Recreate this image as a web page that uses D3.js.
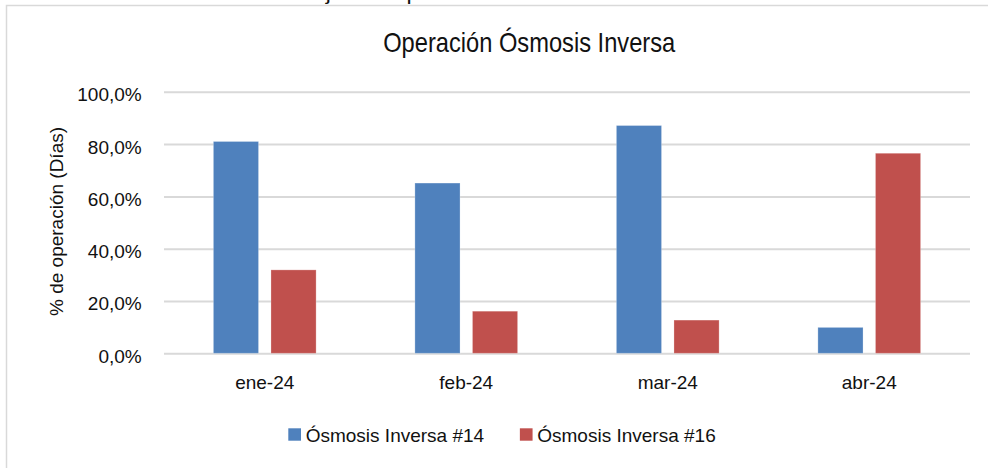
<!DOCTYPE html>
<html>
<head>
<meta charset="utf-8">
<script src="https://cdn.jsdelivr.net/npm/d3@7"></script>
<style>
  html, body { margin: 0; padding: 0; background: #fff; overflow: hidden; }
  text { font-family: "Liberation Sans", Arial, sans-serif; fill: #111; }
</style>
</head>
<body>
<div id="chart"></div>
<script>
// data
const categories = ['ene-24', 'feb-24', 'mar-24', 'abr-24'];
const seriesNames = ['Ósmosis Inversa #14', 'Ósmosis Inversa #16'];
const os14 = [81.0, 65.1, 87.1, 9.9];
const os16 = [31.9, 16.1, 12.7, 76.5];
const yTicks = [0, 20, 40, 60, 80, 100];
const colors = ['#4F81BD', '#C0504D'];

const width = 988, height = 468;
const plot = {left: 164, right: 970, top: 91.8, bottom: 353.3};

const esLocale = d3.formatLocale({decimal: ',', thousands: '.', grouping: [3], currency: ['', '€']});
const pct = v => esLocale.format('.1f')(v) + '%';

const svg = d3.select('#chart')
  .append('svg')
    .attr('width', width)
    .attr('height', height);

// chart frame (runs off the right and bottom of the picture)
svg.append('rect')
  .attr('x', 6.5).attr('y', 5.5)
  .attr('width', 1000).attr('height', 500)
  .attr('fill', 'none')
  .attr('stroke', '#d9d9d9')
  .attr('stroke-width', 1.5);

// caption above the frame, cut off by the top edge as in the source
svg.append('text')
  .attr('x', 502).attr('y', 0.2)
  .attr('text-anchor', 'middle')
  .attr('font-size', 19)
  .attr('textLength', 750)
  .attr('lengthAdjust', 'spacingAndGlyphs')
  .attr('fill', '#555')
  .text('Gráfico 1. Porcentajes de operación de las Unidades de Ósmosis Inversa');

svg.append('text')
  .attr('x', 529.2).attr('y', 51.5)
  .attr('text-anchor', 'middle')
  .attr('font-size', 28)
  .attr('textLength', 292)
  .attr('lengthAdjust', 'spacingAndGlyphs')
  .text('Operación Ósmosis Inversa');

const x0 = d3.scaleBand()
  .domain(categories)
  .range([plot.left, plot.right]);

const x1 = d3.scaleBand()
  .domain(seriesNames)
  .range([-51.35, 51.35])
  .paddingInner(0.216);

const y = d3.scaleLinear()
  .domain([0, 100])
  .range([plot.bottom, plot.top]);

// gridlines
svg.append('g')
  .attr('transform', `translate(${plot.left},0)`)
  .call(d3.axisLeft(y).tickValues(yTicks).tickSize(-(plot.right - plot.left)).tickFormat(''))
  .call(g => g.select('.domain').remove())
  .call(g => g.selectAll('line').attr('stroke', '#d9d9d9').attr('stroke-width', 2));

// y tick labels
svg.append('g')
  .attr('transform', `translate(${plot.left},0)`)
  .call(d3.axisLeft(y).tickValues(yTicks).tickSize(0).tickPadding(22.3).tickFormat(pct))
  .call(g => g.select('.domain').remove())
  .call(g => g.selectAll('text')
    .attr('dy', '0.47em')
    .attr('font-size', 19)
    .attr('font-family', '"Liberation Sans", Arial, sans-serif')
    .attr('fill', '#111'));

// bars
const rows = categories.map((c, i) => ({cat: c, values: [os14[i], os16[i]]}));

const groups = svg.append('g')
  .selectAll('g')
  .data(rows)
  .join('g')
    .attr('transform', d => `translate(${x0(d.cat) + x0.bandwidth() / 2},0)`);

groups.selectAll('rect')
  .data(d => d.values.map((v, j) => ({name: seriesNames[j], value: v, j})))
  .join('rect')
    .attr('x', d => x1(d.name))
    .attr('y', d => y(d.value))
    .attr('width', x1.bandwidth())
    .attr('height', d => y(0) - y(d.value))
    .attr('fill', d => colors[d.j])
    .attr('stroke', 'rgba(255,255,255,0.25)')
    .attr('stroke-width', 1);

// x axis labels
svg.append('g')
  .attr('transform', `translate(0,${plot.bottom})`)
  .call(d3.axisBottom(x0).tickSize(0).tickPadding(22.2))
  .call(g => g.select('.domain').remove())
  .call(g => g.selectAll('text')
    .attr('font-size', 19)
    .attr('font-family', '"Liberation Sans", Arial, sans-serif')
    .attr('fill', '#111'));

// y axis title
svg.append('text')
  .attr('transform', 'translate(63,221.5) rotate(-90)')
  .attr('text-anchor', 'middle')
  .attr('font-size', 19)
  .text('% de operación (Días)');

// legend
const legend = svg.append('g');
let lx = 288.3;
seriesNames.forEach((name, i) => {
  const item = legend.append('g').attr('transform', `translate(${lx},0)`);
  item.append('rect')
    .attr('x', 0).attr('y', 428.3)
    .attr('width', 12.7).attr('height', 12.4)
    .attr('fill', colors[i]);
  const t = item.append('text')
    .attr('x', 17.4).attr('y', 441.7)
    .attr('font-size', 19)
    .text(name);
  lx += 17.4 + t.node().getComputedTextLength() + 35.7;
});
</script>
</body>
</html>
